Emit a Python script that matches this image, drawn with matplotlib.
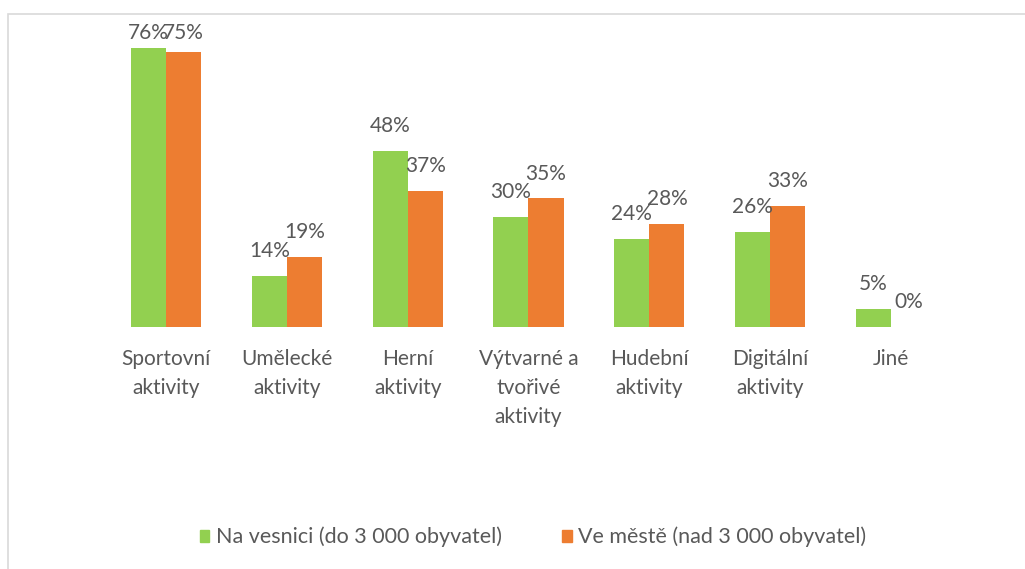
import matplotlib.pyplot as plt
import matplotlib.patches as mpatches
import numpy as np

categories = ['Sportovní\naktivity', 'Umělecké\naktivity', 'Herní\naktivity',
              'Výtvarné a\ntvořivé\naktivity', 'Hudební\naktivity',
              'Digitální\naktivity', 'Jiné']
vesnice = [76, 14, 48, 30, 24, 26, 5]
mesto = [75, 19, 37, 35, 28, 33, 0]
series_names = ['Na vesnici (do 3 000 obyvatel)', 'Ve městě (nad 3 000 obyvatel)']

green = '#92D050'
orange = '#ED7D31'
text_col = '#595959'
plt.rcParams['font.family'] = ['Lato', 'DejaVu Sans']
fs = 15

fig = plt.figure(figsize=(10.25, 5.69), dpi=100)
# light chart-area frame (cropped on right/bottom like the reference)
fig.patches.append(mpatches.Rectangle((8 / 1025, -0.1), 1.2, 1 - 14 / 569 + 0.1,
                                      transform=fig.transFigure, fill=False,
                                      edgecolor='#d9d9d9', linewidth=1.2))

ax = fig.add_axes([105.5 / 1025, (569 - 327) / 569, 846 / 1025, 307 / 569])
x = np.arange(len(categories))
w = 0.29
b1 = ax.bar(x - w / 2, vesnice, w, color=green)
b2 = ax.bar(x + w / 2, mesto, w, color=orange)
ax.set_xlim(-0.5, len(categories) - 0.5)
ax.set_ylim(0, 83.6)

for bars, vals in ((b1, vesnice), (b2, mesto)):
    for bar, v in zip(bars, vals):
        ax.text(bar.get_x() + bar.get_width() / 2, min(v + 6.8, 80.1), f'{v}%',
                ha='center', va='center', fontsize=fs, color=text_col)

ax.set_xticks(x)
ax.set_xticklabels(categories, fontsize=fs, color=text_col, linespacing=1.55, va='top')
ax.tick_params(axis='x', length=0, pad=16)
ax.set_yticks([])
for s in ax.spines.values():
    s.set_visible(False)

handles = [mpatches.Patch(color=green), mpatches.Patch(color=orange)]
leg = fig.legend(handles, series_names, loc='center', bbox_to_anchor=(0.52, 0.056),
                 ncol=2, frameon=False, fontsize=15.5, handlelength=0.45,
                 handleheight=0.45, handletextpad=0.3, columnspacing=2.8)
for t in leg.get_texts():
    t.set_color(text_col)

fig.savefig('out.png', dpi=100)
